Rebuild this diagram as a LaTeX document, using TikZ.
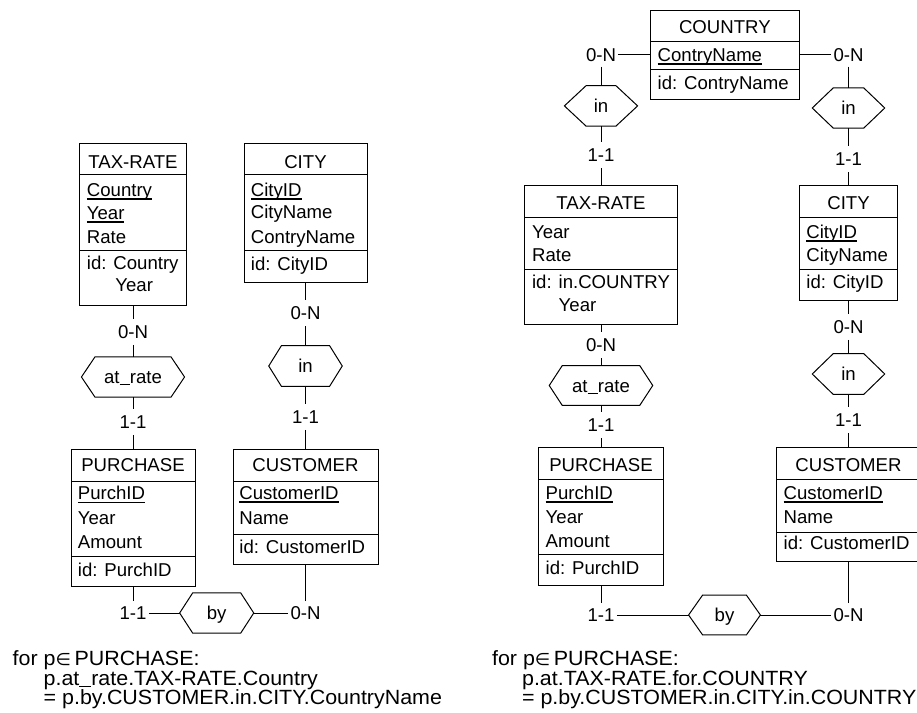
\documentclass[tikz,border=0pt]{standalone}
\usepackage{fontspec}
\setmainfont{Liberation Sans}
\newfontfamily\symf{DejaVu Sans}
\newcommand\ulin[1]{\setbox0\hbox{#1}\rlap{\rule[-1.6pt]{\wd0}{0.7pt}}\box0}
\newcommand\usc{\rule[-0.9pt]{0.556em}{0.5pt}}
\newcommand\fwide[1]{\scalebox{1.04}[1]{#1}}
\newcommand\hexa[2]{\draw[hexline] (#1.west) -- ([xshift=#2]#1.north west) -- ([xshift=-#2]#1.north east) -- (#1.east) -- ([xshift=-#2]#1.south east) -- ([xshift=#2]#1.south west) -- cycle;}
\tikzset{
  every node/.style={font=\fontsize{9.3}{11}\selectfont, inner sep=0pt, text height=6.65pt, text depth=0pt},
  ebox/.style={draw, rectangle, line width=0.5pt},
  sepline/.style={line width=0.5pt},
  hexline/.style={line width=0.5pt},
  conn/.style={line width=0.5pt},
  lbl/.style={inner xsep=1pt, inner ysep=3pt},
  clbl/.style={inner xsep=1pt, inner ysep=2.4pt},
  att/.style={anchor=west},
  ftxt/.style={anchor=west, font=\fontsize{10.3}{12}\selectfont, text height=7.4pt}
}
\begin{document}
\begin{tikzpicture}[x=0.5pt, y=-0.5pt]
\useasboundingbox (0,0) rectangle (917,713);
\fill[white] (0,0) rectangle (917,713);
\clip (0,0) rectangle (917,713);

% ================= LEFT DIAGRAM =================
% TAX-RATE
\node[ebox, minimum width=53.5pt, minimum height=81.2pt] (tr1) at (133,224.5) {};
\draw[sepline] (79.5,174.5) -- (186.5,174.5);
\draw[sepline] (79.5,250) -- (186.5,250);
\node at (133,161.7) {TAX-RATE};
\node[att] at (86.5,190) {\ulin{Country}};
\node[att] at (86.5,213) {\ulin{Year}};
\node[att] at (86.5,237) {Rate};
\node[att] at (86.5,263) {id: Country};
\node[att] at (115,285) {Year};

% CITY
\node[ebox, minimum width=61.5pt, minimum height=69.5pt] (city1) at (305.5,212.8) {};
\draw[sepline] (244,174.5) -- (367,174.5);
\draw[sepline] (244,250.5) -- (367,250.5);
\node at (305.5,161.7) {CITY};
\node[att] at (250.5,190) {\ulin{CityID}};
\node[att] at (250.5,212) {CityName};
\node[att] at (250.5,236.7) {ContryName};
\node[att] at (250.5,264) {id: CityID};

% at_rate
\node[lbl] (l1) at (133,331.7) {0-N};
\node[minimum width=51.15pt, minimum height=19.7pt] (ar1) at (133,377) {at\usc rate};
\hexa{ar1}{6.75pt}
\node[lbl] (l2) at (133,421.7) {1-1};

% in
\node[lbl] (l3) at (305.5,313) {0-N};
\node[minimum width=36.35pt, minimum height=20pt] (in1) at (305.5,366) {in};
\hexa{in1}{6.35pt}
\node[lbl] (l4) at (305.5,416.7) {1-1};

% PURCHASE
\node[ebox, minimum width=62pt, minimum height=68.85pt] (pu1) at (133,517.85) {};
\draw[sepline] (71,481.7) -- (195,481.7);
\draw[sepline] (71,556) -- (195,556);
\node at (133,465) {PURCHASE};
\node[att] at (77.5,493.3) {\ulin{PurchID}};
\node[att] at (77.5,518.3) {Year};
\node[att] at (77.5,541.7) {Amount};
\node[att] at (77.5,570) {id: PurchID};

% CUSTOMER
\node[ebox, minimum width=72.5pt, minimum height=57.5pt] (cu1) at (305.5,506.5) {};
\draw[sepline] (233,481.7) -- (378,481.7);
\draw[sepline] (233,534) -- (378,534);
\node at (305.5,465) {CUSTOMER};
\node[att] at (239,493) {\ulin{CustomerID}};
\node[att] at (239,518) {Name};
\node[att] at (239,546.7) {id: CustomerID};

% by
\node[clbl] (l5) at (133,613) {1-1};
\node[minimum width=36.65pt, minimum height=19.65pt] (by1) at (216.7,613) {by};
\hexa{by1}{6.5pt}
\node[clbl] (l6) at (305.5,613) {0-N};

\draw[conn] (tr1) -- (l1);
\draw[conn] (l1) -- (ar1);
\draw[conn] (ar1) -- (l2);
\draw[conn] (l2) -- (pu1);
\draw[conn] (city1) -- (l3);
\draw[conn] (l3) -- (in1);
\draw[conn] (in1) -- (l4);
\draw[conn] (l4) -- (cu1);
\draw[conn] (pu1) -- (l5);
\draw[conn] (l5) -- (by1);
\draw[conn] (by1) -- (l6);
\draw[conn] (l6) -- (cu1);

\node[ftxt] (f1) at (12.3,658) {\fwide{for p{\symf\fontsize{8.5}{10}\selectfont ∈}\,PURCHASE:}};
\node[ftxt] (f2) at (43.3,678) {\fwide{p.at\usc rate.TAX-RATE.Country}};
\node[ftxt] (f3) at (43.3,697.5) {\fwide{= p.by.CUSTOMER.in.CITY.CountryName}};

% ================= RIGHT DIAGRAM =================
% COUNTRY
\node[ebox, minimum width=74.15pt, minimum height=44.65pt] (cty) at (724.85,54.65) {};
\draw[sepline] (650.7,41.7) -- (799,41.7);
\draw[sepline] (650.7,69.3) -- (799,69.3);
\node at (724.85,27.3) {COUNTRY};
\node[att] at (657.3,55) {\ulin{ContryName}};
\node[att] at (657.3,82.7) {id: ContryName};

\node[clbl] (lc1) at (601,54.65) {0-N};
\node[clbl] (lc2) at (848.5,54.65) {0-N};

% in (TAX-RATE)
\node[minimum width=36.2pt, minimum height=19.85pt] (in2) at (601,105.9) {in};
\hexa{in2}{10.85pt}
\node[lbl] (l7) at (601,155) {1-1};

% TAX-RATE
\node[ebox, minimum width=76.5pt, minimum height=69.15pt] (tr2) at (601,254.85) {};
\draw[sepline] (524.5,217.7) -- (677.5,217.7);
\draw[sepline] (524.5,269.3) -- (677.5,269.3);
\node at (601,202.7) {TAX-RATE};
\node[att] at (531.7,231.7) {Year};
\node[att] at (531.7,255) {Rate};
\node[att] at (531.7,281.7) {id: in.COUNTRY};
\node[att] at (558.3,305) {Year};

\node[lbl] (l8) at (601,345) {0-N};
\node[minimum width=51.35pt, minimum height=19.5pt] (ar2) at (601,385.5) {at\usc rate};
\hexa{ar2}{6.5pt}
\node[lbl] (l9) at (601,425) {1-1};

% PURCHASE
\node[ebox, minimum width=62.15pt, minimum height=68.65pt] (pu2) at (601,516.35) {};
\draw[sepline] (538.9,479.3) -- (663.1,479.3);
\draw[sepline] (538.9,554.3) -- (663.1,554.3);
\node at (601,465) {PURCHASE};
\node[att] at (545.3,493) {\ulin{PurchID}};
\node[att] at (545.3,516.7) {Year};
\node[att] at (545.3,540.7) {Amount};
\node[att] at (545.3,567.7) {id: PurchID};

% in (CITY)
\node[minimum width=35.85pt, minimum height=19.7pt] (in3) at (848.5,108) {in};
\hexa{in3}{10.5pt}
\node[lbl] (l12) at (848.5,159.3) {1-1};

% CITY
\node[ebox, minimum width=49.2pt, minimum height=57.15pt] (city2) at (848.5,242.85) {};
\draw[sepline] (799.3,217.7) -- (897.7,217.7);
\draw[sepline] (799.3,269.3) -- (897.7,269.3);
\node at (848.5,202.7) {CITY};
\node[att] at (806,231.7) {\ulin{CityID}};
\node[att] at (806,255) {CityName};
\node[att] at (806,282) {id: CityID};

\node[lbl] (l13) at (848.5,326.7) {0-N};
\node[minimum width=35.85pt, minimum height=20pt] (in4) at (848.5,374) {in};
\hexa{in4}{10.5pt}
\node[lbl] (l14) at (848.5,420) {1-1};

% CUSTOMER
\node[ebox, minimum width=72.5pt, minimum height=57pt] (cu2) at (848.5,504.7) {};
\draw[sepline] (776,479.3) -- (921,479.3);
\draw[sepline] (776,532.3) -- (921,532.3);
\node at (848.5,465) {CUSTOMER};
\node[att] at (783.3,493) {\ulin{CustomerID}};
\node[att] at (783.3,516.7) {Name};
\node[att] at (783.3,543.3) {id: CustomerID};

% by
\node[clbl] (l10) at (601,615) {1-1};
\node[minimum width=35.5pt, minimum height=19.5pt] (by2) at (724.5,615) {by};
\hexa{by2}{7pt}
\node[clbl] (l11) at (848.5,615) {0-N};

\draw[conn] (cty) -- (lc1);
\draw[conn] (lc1) -- (in2);
\draw[conn] (in2) -- (l7);
\draw[conn] (l7) -- (tr2);
\draw[conn] (tr2) -- (l8);
\draw[conn] (l8) -- (ar2);
\draw[conn] (ar2) -- (l9);
\draw[conn] (l9) -- (pu2);
\draw[conn] (pu2) -- (l10);
\draw[conn] (l10) -- (by2);
\draw[conn] (by2) -- (l11);
\draw[conn] (l11) -- (cu2);
\draw[conn] (cty) -- (lc2);
\draw[conn] (lc2) -- (in3);
\draw[conn] (in3) -- (l12);
\draw[conn] (l12) -- (city2);
\draw[conn] (city2) -- (l13);
\draw[conn] (l13) -- (in4);
\draw[conn] (in4) -- (l14);
\draw[conn] (l14) -- (cu2);

\node[ftxt] (f4) at (491.7,658) {\fwide{for p{\symf\fontsize{8.5}{10}\selectfont ∈}\,PURCHASE:}};
\node[ftxt] (f5) at (521.7,678) {\fwide{p.at.TAX-RATE.for.COUNTRY}};
\node[ftxt] (f6) at (521.7,697.5) {\fwide{= p.by.CUSTOMER.in.CITY.in.COUNTRY}};
\end{tikzpicture}
\end{document}
